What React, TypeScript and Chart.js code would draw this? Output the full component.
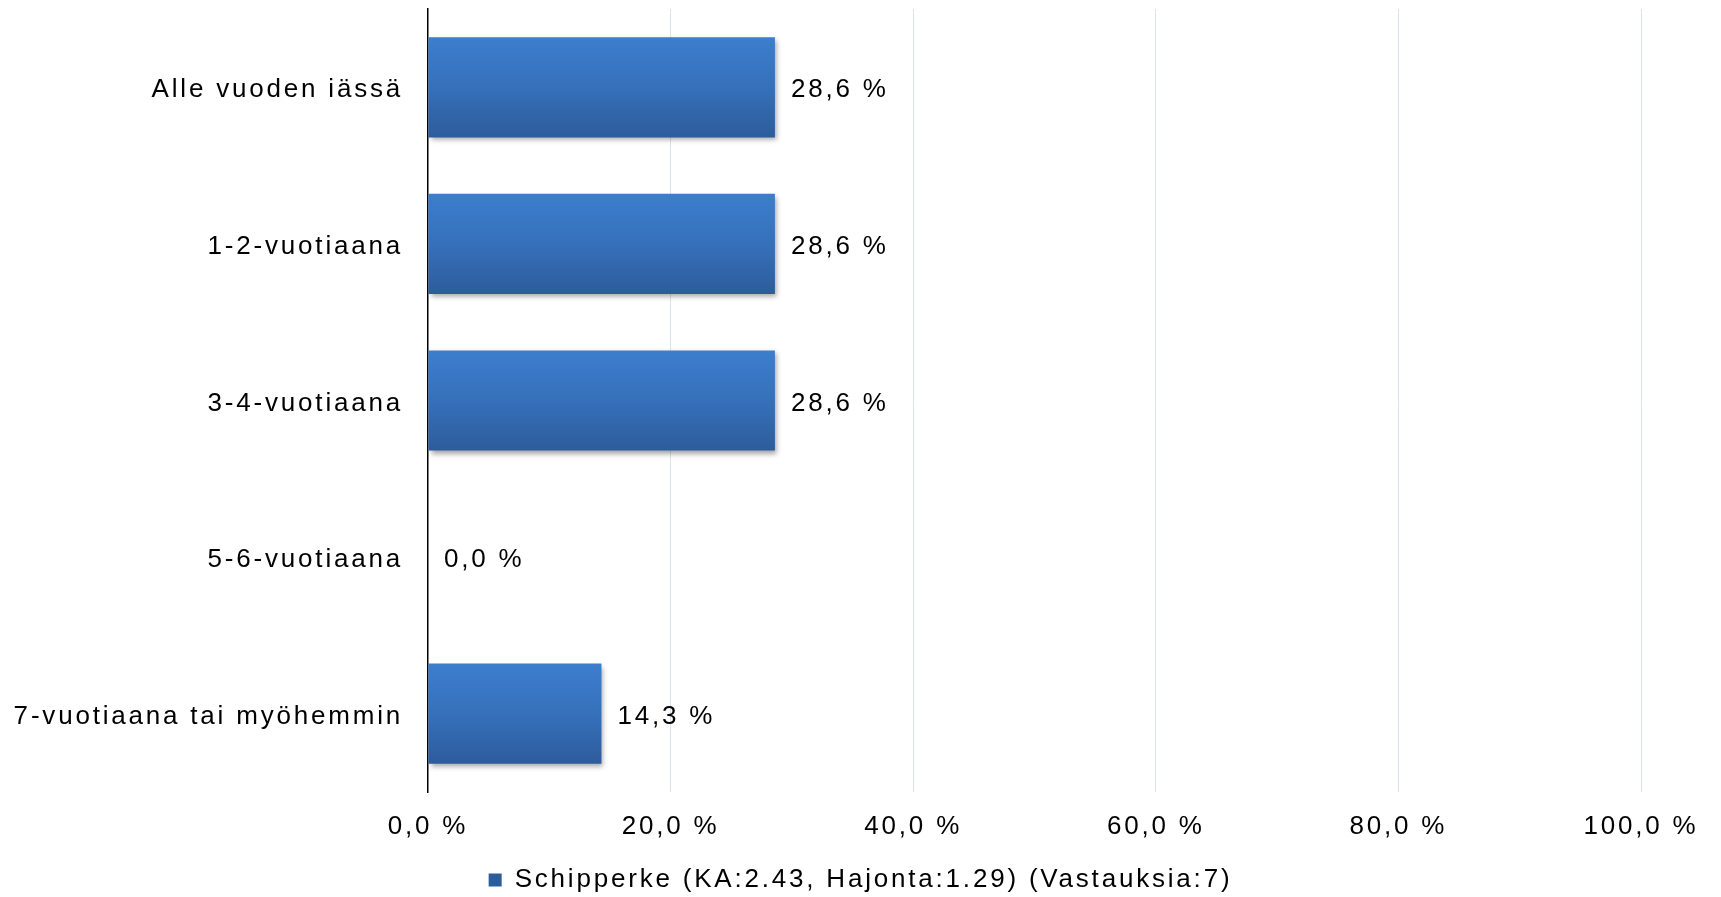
import React, { useEffect, useRef } from 'react';
import { Chart, registerables } from 'chart.js';

Chart.register(...registerables);

const categories = [
  'Alle vuoden iässä',
  '1-2-vuotiaana',
  '3-4-vuotiaana',
  '5-6-vuotiaana',
  '7-vuotiaana tai myöhemmin',
];
const seriesLabel = 'Schipperke (KA:2.43, Hajonta:1.29) (Vastauksia:7)';
const seriesValues = [28.6, 28.6, 28.6, 0.0, 14.3];
const xTickValues = [0, 20, 40, 60, 80, 100];

const FONT = '"Liberation Sans", Arial, sans-serif';
const FONT_SIZE = 26;
const SPACING = '2.8px';
const CAT_PCT = 1;
const BAR_PCT = 0.64;

const fmt = (v: number) => v.toFixed(1).replace('.', ',') + ' %';

const stylePlugin = {
  id: 'stylePlugin',
  beforeUpdate(chart: any) {
    chart.ctx.letterSpacing = SPACING;
  },
  beforeDraw(chart: any) {
    chart.ctx.letterSpacing = SPACING;
  },
  beforeDatasetsDraw(chart: any) {
    const ctx = chart.ctx;
    ctx.save();
    ctx.shadowColor = 'rgba(0,0,0,0.35)';
    ctx.shadowBlur = 5;
    ctx.shadowOffsetX = 2;
    ctx.shadowOffsetY = 3;
  },
  afterDatasetsDraw(chart: any) {
    const ctx = chart.ctx;
    ctx.restore();
    ctx.save();
    ctx.letterSpacing = SPACING;
    ctx.font = `${FONT_SIZE}px ${FONT}`;
    ctx.fillStyle = '#000';
    ctx.textAlign = 'left';
    ctx.textBaseline = 'middle';
    const meta = chart.getDatasetMeta(0);
    meta.data.forEach((el: any, i: number) => {
      const v = chart.data.datasets[0].data[i] as number;
      ctx.fillText(fmt(v), el.x + 16, el.y + 3);
    });
    ctx.restore();
  },
};

export default function App() {
  const ref = useRef<HTMLCanvasElement>(null);

  useEffect(() => {
    document.body.style.margin = '0';
    const chart = new Chart(ref.current!, {
      type: 'bar',
      data: {
        labels: categories,
        datasets: [
          {
            label: seriesLabel,
            data: seriesValues,
            borderWidth: 0,
            categoryPercentage: CAT_PCT,
            barPercentage: BAR_PCT,
            backgroundColor: (c: any) => {
              const ch = c.chart;
              const area = ch.chartArea;
              if (!area || c.type !== 'data') return '#3a74c2';
              const y = ch.scales.y.getPixelForValue(c.dataIndex);
              const half = ((area.bottom - area.top) / categories.length) * CAT_PCT * BAR_PCT / 2;
              const g = ch.ctx.createLinearGradient(0, y - half, 0, y + half);
              g.addColorStop(0, '#3c7ecd');
              g.addColorStop(0.5, '#3670bb');
              g.addColorStop(1, '#2d5c9b');
              return g;
            },
          },
        ],
      },
      options: {
        indexAxis: 'y',
        responsive: true,
        maintainAspectRatio: false,
        animation: false,
        layout: { padding: { top: 9, right: 0, bottom: -6, left: 0 } },
        plugins: {
          tooltip: { enabled: false },
          legend: {
            position: 'bottom',
            labels: {
              font: { family: FONT, size: FONT_SIZE },
              color: '#000',
              boxWidth: 13,
              boxHeight: 13,
              padding: 10,
            },
          },
        },
        scales: {
          x: {
            type: 'linear',
            min: 0,
            max: 100,
            afterBuildTicks: (s: any) => {
              s.ticks = xTickValues.map((v) => ({ value: v }));
            },
            afterFit: (s: any) => {
              s.height = 65;
              s.paddingLeft = 0;
              s.paddingRight = 0;
            },
            grid: {
              color: (c: any) => (c.tick && c.tick.value === 0 ? 'rgba(0,0,0,0)' : '#d9e4f1'),
              lineWidth: 1,
              drawTicks: false,
            },
            border: { display: false },
            ticks: {
              padding: 19,
              color: '#000',
              font: { family: FONT, size: FONT_SIZE },
              callback: (v: any) => fmt(Number(v)),
            },
          },
          y: {
            afterFit: (s: any) => {
              s.width = 428;
              s.paddingTop = 0;
              s.paddingBottom = 0;
            },
            grid: { display: false, drawTicks: false },
            border: { display: true, color: '#000', width: 1.5 },
            ticks: {
              padding: 25,
              labelOffset: 3,
              color: '#000',
              font: { family: FONT, size: FONT_SIZE },
            },
          },
          yRight: {
            type: 'linear',
            position: 'right',
            afterFit: (s: any) => {
              s.width = 80;
              s.paddingTop = 0;
              s.paddingBottom = 0;
            },
            grid: { display: false, drawTicks: false },
            border: { display: false },
            ticks: { display: false },
          },
        },
      },
      plugins: [stylePlugin],
    } as any);
    return () => chart.destroy();
  }, []);

  return (
    <div style={{ position: 'fixed', left: 0, top: 0, width: 1721, height: 897 }}>
      <canvas ref={ref} />
    </div>
  );
}
